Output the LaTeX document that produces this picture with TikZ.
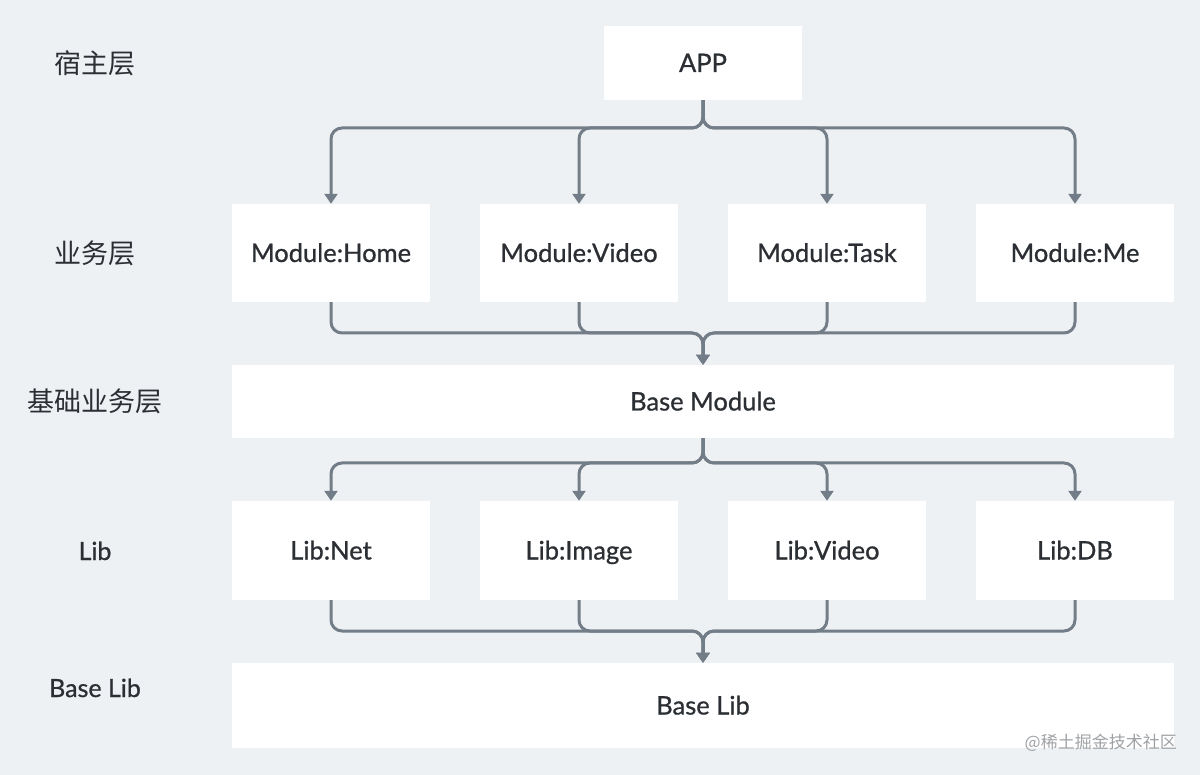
\documentclass[tikz,border=0pt]{standalone}
\usepackage{fontspec}
\setmainfont{Lato}
\newfontfamily\latomed{Lato}[BoldFont=Lato, BoldFeatures={FakeBold=0.8}]
\newfontfamily\cjk{Noto Sans CJK SC}
\usetikzlibrary{arrows.meta}
\definecolor{bg}{HTML}{EEF1F4}
\definecolor{ln}{HTML}{737D87}
\definecolor{tx}{HTML}{2B2F33}
\definecolor{wm}{HTML}{A0A3A6}
\tikzset{
  box/.style={fill=white, draw=none, inner sep=0pt, text=tx, text height=18pt, text depth=0pt, font=\latomed\bfseries\fontsize{25.5}{30}\selectfont},
  lbl/.style={text=tx, inner sep=0pt, text height=18pt, text depth=0pt, font=\latomed\bfseries\fontsize{25}{30}\selectfont},
  clbl/.style={text=tx, inner sep=0pt, font=\cjk\fontsize{27}{30}\selectfont},
  conn/.style={draw=ln, line width=3pt, rounded corners=11pt, -{Triangle[width=13pt,length=10pt]}},
}
\begin{document}
\begin{tikzpicture}[x=1pt,y=-1pt]
\fill[bg] (0,0) rectangle (1200,775);
\useasboundingbox (0,0) rectangle (1200,775);
% boxes
\node[box, minimum width=198pt, minimum height=74pt] (app) at (703,63) {APP};
\node[box, minimum width=198pt, minimum height=98pt] (home) at (331,253) {Module:Home};
\node[box, minimum width=198pt, minimum height=98pt] (video) at (579,253) {Module:Video};
\node[box, minimum width=198pt, minimum height=98pt] (task) at (827,253) {Module:Task};
\node[box, minimum width=198pt, minimum height=98pt] (me) at (1075,253) {Module:Me};
\node[box, minimum width=942pt, minimum height=73pt] (bmod) at (703,401.5) {Base Module};
\node[box, minimum width=198pt, minimum height=99pt] (net) at (331,550.5) {Lib:Net};
\node[box, minimum width=198pt, minimum height=99pt] (img) at (579,550.5) {Lib:Image};
\node[box, minimum width=198pt, minimum height=99pt] (lvid) at (827,550.5) {Lib:Video};
\node[box, minimum width=198pt, minimum height=99pt] (db) at (1075,550.5) {Lib:DB};
\node[box, minimum width=942pt, minimum height=85pt] (blib) at (703,705.5) {Base Lib};
% left labels
\node[clbl] (l1) at (95,63) {宿主层};
\node[clbl] (l2) at (95,253) {业务层};
\node[clbl] (l3) at (95,401) {基础业务层};
\node[lbl] (l4) at (95,551) {Lib};
\node[lbl] (l5) at (95,688) {Base Lib};
% junction coordinates
\coordinate (j1) at (703,128);
\coordinate (j2) at (703,333);
\coordinate (j3) at (703,463);
\coordinate (j4) at (703,631);
% APP -> modules
\foreach \t in {home,video,task,me} \draw[conn] (app.south) -- (j1) -| (\t.north);
% modules -> base module
\foreach \s in {home,video,task,me} \draw[conn] (\s.south) |- (j2) -- (bmod.north);
% base module -> libs
\foreach \t in {net,img,lvid,db} \draw[conn] (bmod.south) -- (j3) -| (\t.north);
% libs -> base lib
\foreach \s in {net,img,lvid,db} \draw[conn] (\s.south) |- (j4) -- (blib.north);
% watermark
\node[text=wm, inner sep=0pt, anchor=east, font=\cjk\fontsize{17}{20}\selectfont] (wmk) at (1177,743) {@稀土掘金技术社区};
\end{tikzpicture}
\end{document}
